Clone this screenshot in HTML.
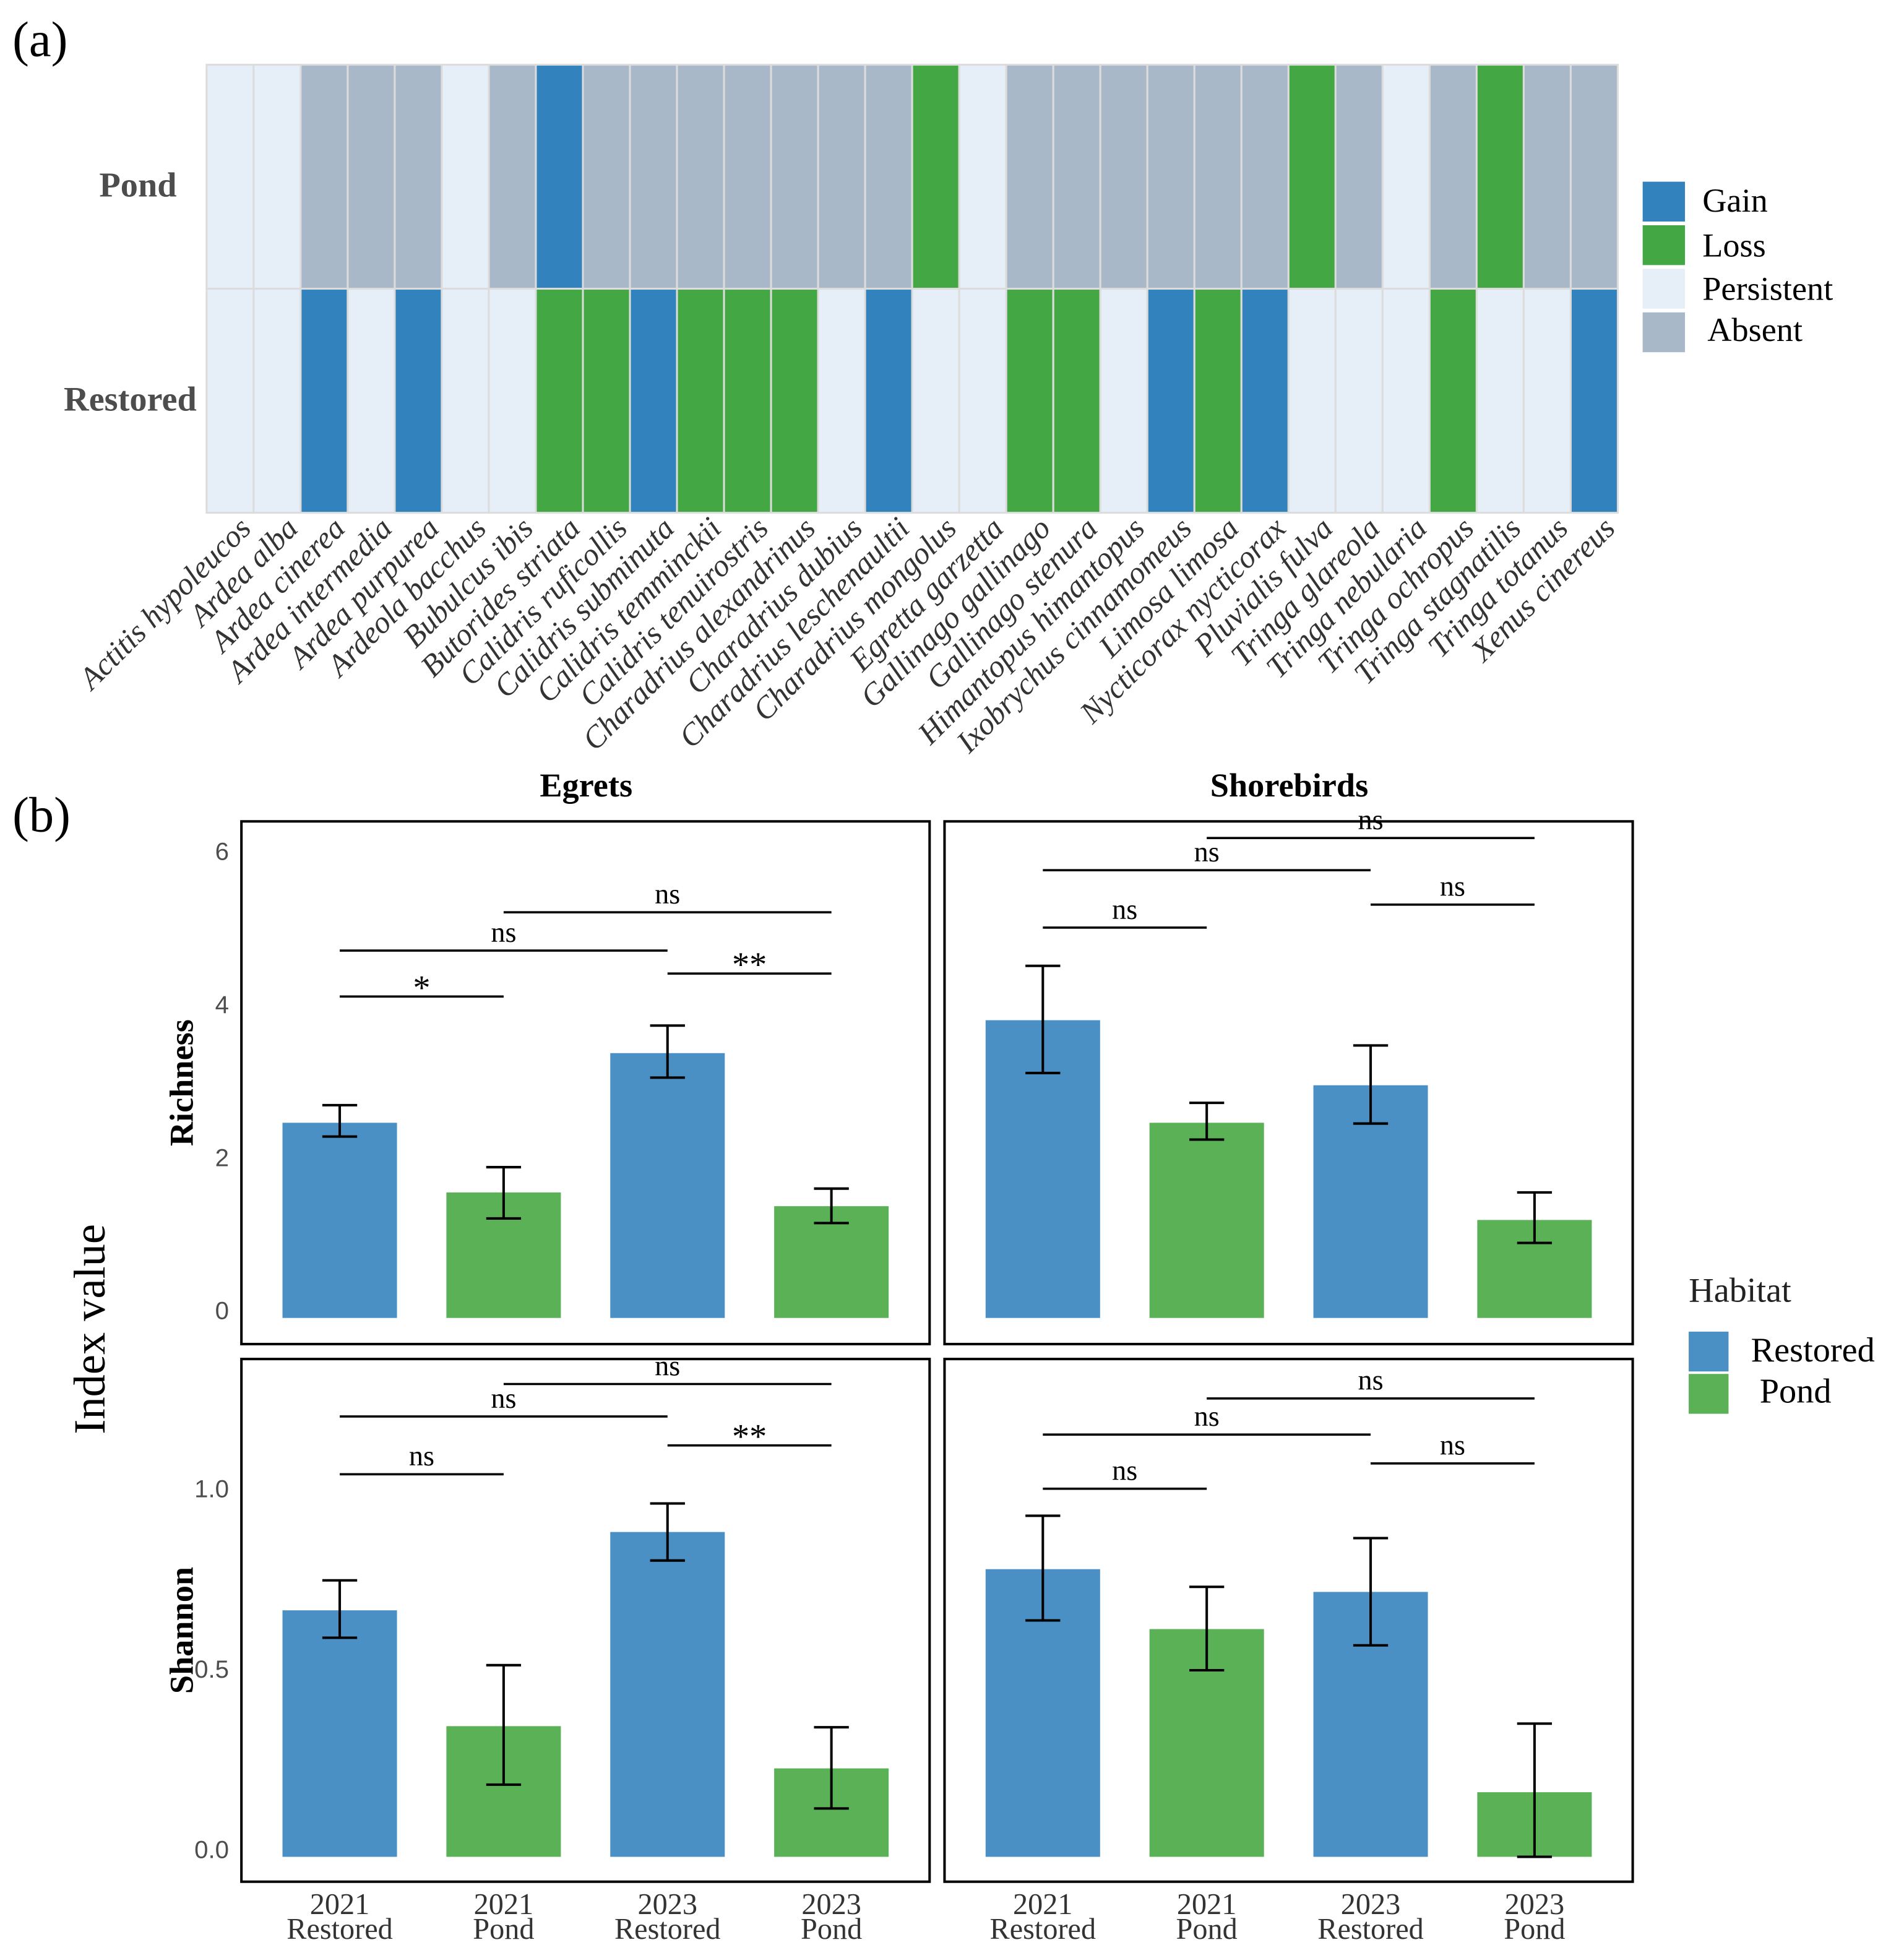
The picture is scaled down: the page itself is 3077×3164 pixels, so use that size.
<!DOCTYPE html>
<html><head><meta charset="utf-8"><style>
html,body{margin:0;padding:0;background:#fff}
svg{display:block}
text{font-family:"Liberation Serif",serif}
.tick{font-family:"Liberation Sans",sans-serif;font-size:20px;fill:#4d4d4d}
</style></head><body>
<svg id="chart" width="3077" height="3164" viewBox="0 0 1530 1573.3" preserveAspectRatio="none" xmlns="http://www.w3.org/2000/svg">
<text x="10" y="45" font-size="40">(a)</text>
<text x="10" y="668" font-size="40">(b)</text>
<g id="heat"></g>
<g id="hlabels"></g>
<text x="142" y="158" font-size="28" font-weight="bold" fill="#4d4d4d" text-anchor="end">Pond</text>
<text x="158" y="330" font-size="28" font-weight="bold" fill="#4d4d4d" text-anchor="end">Restored</text>
<g>
<rect x="1320" y="146" width="34" height="32" fill="#3182bd"/>
<rect x="1320" y="181" width="34" height="32" fill="#43a843"/>
<rect x="1320" y="216" width="34" height="32" fill="#e6eef8"/>
<rect x="1320" y="251" width="34" height="32" fill="#a9b8c8"/>
<text x="1368" y="170" font-size="27">Gain</text>
<text x="1368" y="206" font-size="27">Loss</text>
<text x="1368" y="241" font-size="27">Persistent</text>
<text x="1372" y="274" font-size="27">Absent</text>
</g>
<text x="471" y="640" font-size="27" font-weight="bold" text-anchor="middle">Egrets</text>
<text x="1036" y="640" font-size="27" font-weight="bold" text-anchor="middle">Shorebirds</text>
<text transform="translate(84,1068) rotate(-90)" font-size="36" text-anchor="middle">Index value</text>
<text transform="translate(155,870) rotate(-90)" font-size="27" font-weight="bold" text-anchor="middle">Richness</text>
<text transform="translate(155,1310) rotate(-90)" font-size="27" font-weight="bold" text-anchor="middle">Shannon</text>
<g>
<text x="1357" y="1046" font-size="28" fill="#222">Habitat</text>
<rect x="1357" y="1070" width="32" height="32" fill="#4a90c4"/>
<rect x="1357" y="1104" width="32" height="32" fill="#5ab156"/>
<text x="1407" y="1094" font-size="28">Restored</text>
<text x="1414" y="1127" font-size="28">Pond</text>
</g>
<g id="bars"></g>
</svg>
<script>
const NS="http://www.w3.org/2000/svg";
const species=["Actitis hypoleucos","Ardea alba","Ardea cinerea","Ardea intermedia","Ardea purpurea","Ardeola bacchus","Bubulcus ibis","Butorides striata","Calidris ruficollis","Calidris subminuta","Calidris temminckii","Calidris tenuirostris","Charadrius alexandrinus","Charadrius dubius","Charadrius leschenaultii","Charadrius mongolus","Egretta garzetta","Gallinago gallinago","Gallinago stenura","Himantopus himantopus","Ixobrychus cinnamomeus","Limosa limosa","Nycticorax nycticorax","Pluvialis fulva","Tringa glareola","Tringa nebularia","Tringa ochropus","Tringa stagnatilis","Tringa totanus","Xenus cinereus"];
const pondStatus=["P","P","A","A","A","P","A","G","A","A","A","A","A","A","A","L","P","A","A","A","A","A","A","L","A","P","A","L","A","A"];
const restoredStatus=["P","P","G","P","G","P","P","L","L","G","L","L","L","P","G","P","P","L","L","P","G","L","G","P","P","P","L","P","P","G"];
const statusColor={G:"#3182bd",L:"#43a843",P:"#e6eef8",A:"#a9b8c8"};
const groups=["2021\nRestored","2021\nPond","2023\nRestored","2023\nPond"];
const egretRich=[2.55,1.64,3.46,1.46];
const egretRichErr=[[2.37,2.78],[1.30,1.97],[3.14,3.82],[1.24,1.69]];
const shoreRich=[3.89,2.55,3.04,1.28];
const shoreRichErr=[[3.20,4.60],[2.33,2.81],[2.54,3.56],[0.98,1.64]];
const egretShan=[0.683,0.362,0.90,0.245];
const egretShanErr=[[0.607,0.766],[0.20,0.531],[0.821,0.979],[0.134,0.359]];
const shoreShan=[0.797,0.631,0.734,0.179];
const shoreShanErr=[[0.655,0.945],[0.517,0.748],[0.586,0.883],[0.0,0.369]];
const richTicks=[0,2,4,6];
const shanTicks=["0.0","0.5","1.0"];
const egretRichSig=[[0,1,4.2,"*"],[0,2,4.8,"ns"],[2,3,4.5,"**"],[1,3,5.3,"ns"]];
const shoreRichSig=[[0,1,5.1,"ns"],[0,2,5.85,"ns"],[1,3,6.27,"ns"],[2,3,5.4,"ns"]];
const egretShanSig=[[0,1,1.06,"ns"],[0,2,1.22,"ns"],[1,3,1.31,"ns"],[2,3,1.14,"**"]];
const shoreShanSig=[[0,1,1.02,"ns"],[0,2,1.17,"ns"],[1,3,1.27,"ns"],[2,3,1.09,"ns"]];

function el(tag,attrs,parent){const e=document.createElementNS(NS,tag);for(const k in attrs)e.setAttribute(k,attrs[k]);parent.appendChild(e);return e;}

const heat=document.getElementById("heat"), hl=document.getElementById("hlabels");
const hx0=166,hx1=1300,cw=(hx1-hx0)/species.length;
const rows=[[pondStatus,52],[restoredStatus,232]];
rows.forEach(([arr,y0],ri)=>{arr.forEach((s,i)=>{
  const r=el("rect",{x:hx0+i*cw,y:y0,width:cw,height:180,fill:statusColor[s],stroke:"#dcdcdc","stroke-width":1.5},heat);
  
  
});});
species.forEach((s,i)=>{
  const cx=hx0+(i+0.5)*cw+18;
  const t=el("text",{transform:`translate(${cx},426) rotate(-45)`,"text-anchor":"end","font-size":25,"font-style":"italic",fill:"#333"},hl);
  t.textContent=s;
  
  
});

const bars=document.getElementById("bars");
function panel(px0,px1,py0,py1,zeroY,scale,vals,errs,sig,ticks,tickVals,showTicks,showX){
  el("rect",{x:px0,y:py0,width:px1-px0,height:py1-py0,fill:"none",stroke:"#000","stroke-width":2},bars);
  const xc=i=>px0+79+i*131.7;
  const yv=v=>zeroY-v*scale;
  if(showTicks){ticks.forEach((t,i)=>{const tx=el("text",{x:184,y:yv(tickVals[i])+1,"text-anchor":"end",class:"tick"},bars);tx.textContent=t;
    
    });}
  vals.forEach((v,i)=>{
    const cx=xc(i);
    const r=el("rect",{x:cx-46,y:yv(v),width:92,height:zeroY-yv(v),fill:i%2==0?"#4a90c4":"#5ab156"},bars);
    
    
    const [lo,hi]=errs[i];
    const g=el("path",{d:`M${cx-14},${yv(hi)}H${cx+14}M${cx},${yv(hi)}V${yv(lo)}M${cx-14},${yv(lo)}H${cx+14}`,stroke:"#000","stroke-width":2,fill:"none"},bars);
    
    
    if(showX){const [a,b]=groups[i].split("\n");
      const t1=el("text",{x:cx,y:1538,"text-anchor":"middle","font-size":24,fill:"#333"},bars);t1.textContent=a;
      
      
      const t2=el("text",{x:cx,y:1558,"text-anchor":"middle","font-size":24,fill:"#333"},bars);t2.textContent=b;
      
      }
  });
  sig.forEach(([a,b,lv,lab])=>{
    const xa=xc(a),xb=xc(b),y=yv(lv);
    const l=el("line",{x1:xa,x2:xb,y1:y,y2:y,stroke:"#000","stroke-width":1.8},bars);
    
    
    const t=el("text",{x:(xa+xb)/2,y:y-(lab=="ns"?7:-2),"text-anchor":"middle","font-size":lab=="ns"?23:28},bars);t.textContent=lab;
    
    
  });
}
panel(194,747,660,1080,1059,61.5,egretRich,egretRichErr,egretRichSig,richTicks,richTicks,true,false);
panel(759,1312,660,1080,1059,61.5,shoreRich,shoreRichErr,shoreRichSig,richTicks,richTicks,false,false);
panel(194,747,1092,1512,1492,290,egretShan,egretShanErr,egretShanSig,shanTicks,shanTicks.map(Number),true,true);
panel(759,1312,1092,1512,1492,290,shoreShan,shoreShanErr,shoreShanSig,shanTicks,shanTicks.map(Number),false,true);
</script>
</body></html>
